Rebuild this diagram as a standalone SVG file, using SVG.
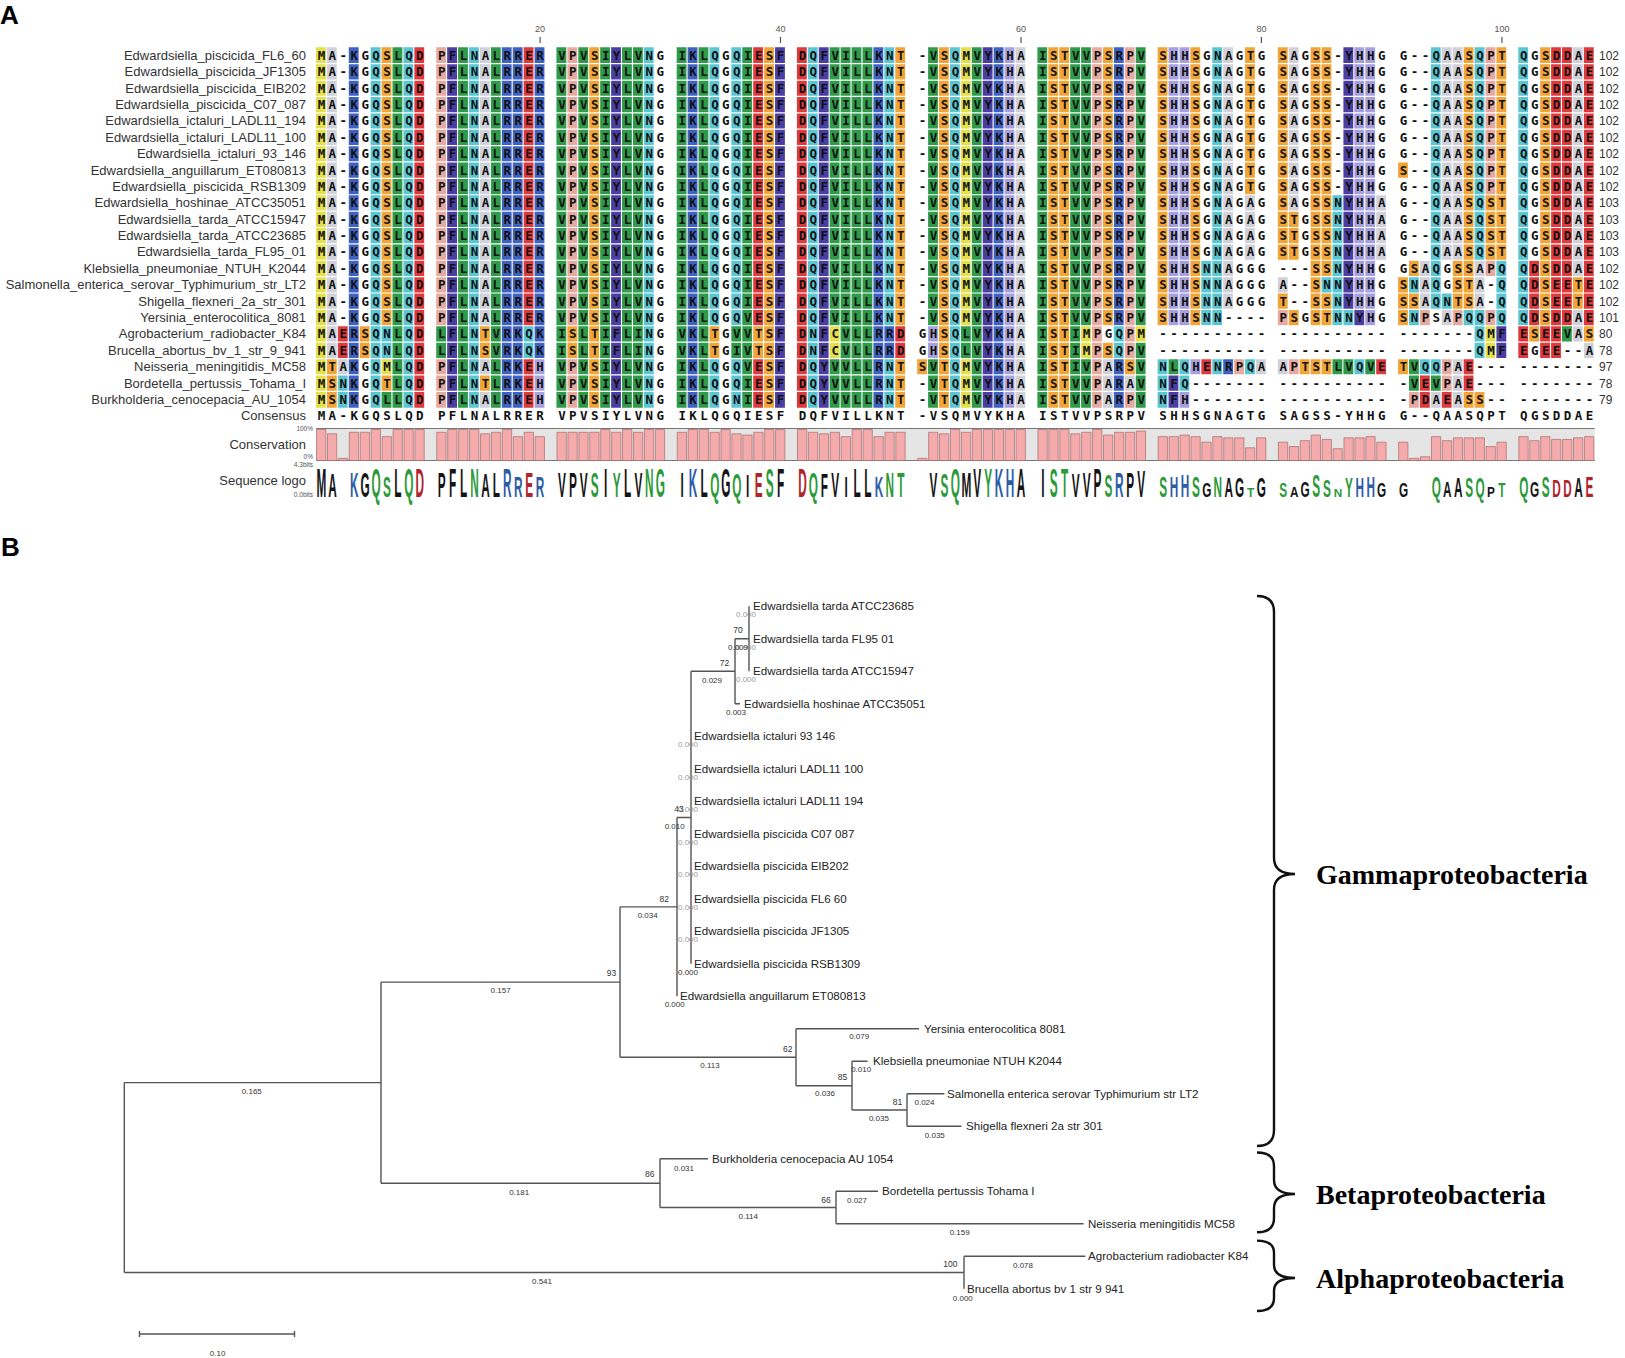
<svg xmlns="http://www.w3.org/2000/svg" width="1625" height="1358" viewBox="0 0 1625 1358">
<style>
text{font-family:"Liberation Sans",Arial,sans-serif}
.pl{font-size:26px;font-weight:bold;fill:#000}
.nm{font-size:13px;fill:#333;text-anchor:end}
.sq{font-family:"DejaVu Sans Mono",monospace;font-size:12.5px;font-weight:bold;letter-spacing:3.405px;fill:#111}
.ln{font-size:12px;fill:#333}
.tk{font-size:9px;fill:#555;text-anchor:middle}
.sm{font-size:6.5px;fill:#555;text-anchor:end}
.y{fill:#e4e04c}.a{fill:#d0d1d9}.b{fill:#3f62c2}.c{fill:#5ac6d3}.o{fill:#f1a536}.g{fill:#2f9a4a}.r{fill:#e0393c}.p{fill:#e7aaa0}.f{fill:#4b3ea2}.h{fill:#a6a0de}
.lg{font-size:12px;font-weight:bold;text-anchor:middle}
.k{fill:#151515}.n{fill:#2c9a3a}.u{fill:#2d5ca8}.d{fill:#b0242a}
.lf{font-size:11.6px;fill:#222}
.bs{font-size:8.5px;fill:#333;text-anchor:middle}
.bl{font-size:8px;fill:#333;text-anchor:middle}
.bz{font-size:8px;fill:#9a9a9a;text-anchor:middle}
.br{fill:none;stroke:#555;stroke-width:1.4}
.cl{font-family:"Liberation Serif","Times New Roman",serif;font-size:28px;font-weight:bold;fill:#000}
.brace{fill:none;stroke:#111;stroke-width:2.4}
</style>
<rect width="1625" height="1358" fill="#fff"/>

<!-- Panel A -->
<text class="pl" x="0" y="24">A</text>
<g id="ticks">
<text class="tk" x="540.1" y="32">20</text><text class="tk" x="780.5" y="32">40</text><text class="tk" x="1021" y="32">60</text><text class="tk" x="1261.4" y="32">80</text><text class="tk" x="1501.9" y="32">100</text>
<path d="M540.1 37V43M780.5 37V43M1021 37V43M1261.4 37V43M1501.9 37V43" stroke="#555" stroke-width="1.2"/>
</g>

<g id="cells" transform="translate(316 47.31) scale(10.93 16.38)">
<path class="y" d="M0 0h.9v22h-.9zM6 19h.9v1h-.9zM47 17h.9v2h-.9zM59 0h.9v17h-.9zM59 19h.9v3h-.9zM70 17h.9v2h-.9zM75 17h.9v1h-.9zM107 17h.9v2h-.9z"/>
<path class="a" d="M1 0h.9v19h-.9zM2 19h.9v1h-.9zM15 0h.9v17h-.9zM15 19h.9v1h-.9zM15 21h.9v1h-.9zM64 0h.9v22h-.9zM72 19h.9v3h-.9zM74 20h.9v1h-.9zM83 0h.9v16h-.9zM85 9h.9v4h-.9zM86 19h.9v1h-.9zM88 14h.9v1h-.9zM88 19h.9v1h-.9zM89 0h.9v10h-.9zM97 9h.9v4h-.9zM101 13h.9v3h-.9zM102 21h.9v1h-.9zM103 0h.9v13h-.9zM103 16h.9v1h-.9zM104 0h.9v13h-.9zM104 19h.9v3h-.9zM106 13h.9v3h-.9zM115 0h.9v14h-.9zM115 16h.9v2h-.9zM116 18h.9v1h-.9z"/>
<path class="b" d="M3 0h.9v22h-.9zM17 0h.9v22h-.9zM18 0h.9v22h-.9zM20 0h.9v19h-.9zM34 0h.9v22h-.9zM51 0h.9v22h-.9zM52 17h.9v2h-.9zM62 0h.9v22h-.9zM73 0h.9v17h-.9zM73 19h.9v3h-.9zM83 19h.9v1h-.9z"/>
<path class="c" d="M2 20h.9v2h-.9zM5 0h.9v22h-.9zM6 17h.9v2h-.9zM8 0h.9v22h-.9zM14 0h.9v22h-.9zM19 17h.9v2h-.9zM30 0h.9v22h-.9zM36 0h.9v17h-.9zM36 19h.9v3h-.9zM38 0h.9v17h-.9zM38 19h.9v3h-.9zM45 0h.9v22h-.9zM52 0h.9v17h-.9zM52 19h.9v3h-.9zM58 0h.9v22h-.9zM73 17h.9v2h-.9zM77 19h.9v3h-.9zM79 19h.9v2h-.9zM81 13h.9v4h-.9zM82 0h.9v17h-.9zM82 19h.9v1h-.9zM85 19h.9v1h-.9zM92 14h.9v1h-.9zM93 9h.9v8h-.9zM94 16h.9v1h-.9zM95 19h.9v1h-.9zM100 14h.9v1h-.9zM100 16h.9v1h-.9zM101 19h.9v1h-.9zM102 0h.9v16h-.9zM102 19h.9v1h-.9zM103 15h.9v1h-.9zM105 16h.9v1h-.9zM106 0h.9v13h-.9zM106 16h.9v3h-.9zM108 13h.9v4h-.9zM110 0h.9v17h-.9z"/>
<path class="o" d="M1 19h.9v3h-.9zM4 17h.9v2h-.9zM6 0h.9v17h-.9zM6 20h.9v1h-.9zM15 17h.9v2h-.9zM15 20h.9v1h-.9zM23 17h.9v2h-.9zM25 0h.9v22h-.9zM36 17h.9v2h-.9zM40 17h.9v2h-.9zM41 0h.9v22h-.9zM53 0h.9v17h-.9zM53 19h.9v3h-.9zM55 19h.9v1h-.9zM57 0h.9v22h-.9zM67 0h.9v22h-.9zM68 0h.9v22h-.9zM72 0h.9v17h-.9zM72 18h.9v1h-.9zM74 19h.9v1h-.9zM77 0h.9v17h-.9zM80 0h.9v17h-.9zM85 0h.9v9h-.9zM88 0h.9v13h-.9zM88 15h.9v1h-.9zM89 10h.9v3h-.9zM89 16h.9v1h-.9zM90 19h.9v1h-.9zM91 0h.9v17h-.9zM91 19h.9v1h-.9zM92 0h.9v14h-.9zM92 15h.9v2h-.9zM92 19h.9v1h-.9zM99 7h.9v1h-.9zM99 14h.9v3h-.9zM99 19h.9v1h-.9zM100 13h.9v1h-.9zM100 15h.9v1h-.9zM104 13h.9v3h-.9zM105 0h.9v16h-.9zM105 21h.9v1h-.9zM106 21h.9v1h-.9zM107 9h.9v4h-.9zM108 0h.9v13h-.9zM111 17h.9v1h-.9zM112 0h.9v17h-.9zM115 14h.9v2h-.9zM116 17h.9v1h-.9z"/>
<path class="g" d="M6 21h.9v1h-.9zM7 0h.9v22h-.9zM11 17h.9v2h-.9zM13 0h.9v22h-.9zM16 0h.9v22h-.9zM22 0h.9v22h-.9zM24 0h.9v22h-.9zM26 0h.9v22h-.9zM28 0h.9v22h-.9zM29 0h.9v22h-.9zM33 0h.9v22h-.9zM35 0h.9v22h-.9zM38 17h.9v2h-.9zM39 0h.9v22h-.9zM47 0h.9v17h-.9zM47 19h.9v3h-.9zM48 0h.9v22h-.9zM49 0h.9v22h-.9zM50 0h.9v22h-.9zM56 0h.9v17h-.9zM56 19h.9v3h-.9zM59 17h.9v2h-.9zM60 0h.9v22h-.9zM66 0h.9v22h-.9zM69 0h.9v22h-.9zM70 0h.9v17h-.9zM70 19h.9v3h-.9zM75 0h.9v17h-.9zM75 18h.9v4h-.9zM78 19h.9v1h-.9zM93 19h.9v1h-.9zM94 19h.9v1h-.9zM96 19h.9v1h-.9zM100 19h.9v2h-.9zM102 20h.9v1h-.9zM114 17h.9v1h-.9z"/>
<path class="r" d="M2 17h.9v2h-.9zM9 0h.9v22h-.9zM19 0h.9v17h-.9zM19 19h.9v3h-.9zM40 0h.9v17h-.9zM40 19h.9v3h-.9zM44 0h.9v22h-.9zM53 17h.9v2h-.9zM81 19h.9v1h-.9zM97 19h.9v1h-.9zM101 20h.9v2h-.9zM103 21h.9v1h-.9zM105 19h.9v2h-.9zM110 17h.9v2h-.9zM111 13h.9v4h-.9zM112 17h.9v2h-.9zM113 0h.9v19h-.9zM114 0h.9v17h-.9zM116 0h.9v17h-.9z"/>
<path class="p" d="M11 0h.9v17h-.9zM11 19h.9v3h-.9zM23 0h.9v17h-.9zM23 19h.9v3h-.9zM71 0h.9v22h-.9zM74 0h.9v19h-.9zM74 21h.9v1h-.9zM84 19h.9v1h-.9zM88 16h.9v1h-.9zM89 19h.9v1h-.9zM100 21h.9v1h-.9zM101 16h.9v1h-.9zM103 19h.9v2h-.9zM104 16h.9v1h-.9zM107 0h.9v9h-.9zM107 13h.9v1h-.9zM107 16h.9v1h-.9z"/>
<path class="f" d="M12 0h.9v22h-.9zM27 0h.9v22h-.9zM42 0h.9v22h-.9zM46 0h.9v22h-.9zM61 0h.9v22h-.9zM78 20h.9v2h-.9zM94 0h.9v16h-.9zM95 16h.9v1h-.9zM108 17h.9v2h-.9z"/>
<path class="h" d="M20 19h.9v3h-.9zM56 17h.9v2h-.9zM63 0h.9v22h-.9zM78 0h.9v17h-.9zM79 0h.9v17h-.9zM79 21h.9v1h-.9zM80 19h.9v1h-.9zM95 0h.9v16h-.9zM96 0h.9v17h-.9z"/>
<path d="M0 1H117M0 2H117M0 3H117M0 4H117M0 5H117M0 6H117M0 7H117M0 8H117M0 9H117M0 10H117M0 11H117M0 12H117M0 13H117M0 14H117M0 15H117M0 16H117M0 17H117M0 18H117M0 19H117M0 20H117M0 21H117" stroke="#fff" stroke-width="1.2" vector-effect="non-scaling-stroke"/>
</g>

<g id="row1"><text class="nm" x="306" y="59.9">Edwardsiella_piscicida_FL6_60</text><text class="sq" x="317.7" y="59.9">MA-KGQSLQD PFLNALRRER VPVSIYLVNG IKLQGQIESF DQFVILLKNT -VSQMVYKHA ISTVVPSRPV SHHSGNAGTG SAGSS-YHHG G--QAASQPT QGSDDAE</text><text class="ln" x="1599" y="59.9">102</text></g>
<g id="row2"><text class="nm" x="306" y="76.28">Edwardsiella_piscicida_JF1305</text><text class="sq" x="317.7" y="76.28">MA-KGQSLQD PFLNALRRER VPVSIYLVNG IKLQGQIESF DQFVILLKNT -VSQMVYKHA ISTVVPSRPV SHHSGNAGTG SAGSS-YHHG G--QAASQPT QGSDDAE</text><text class="ln" x="1599" y="76.28">102</text></g>
<g id="row3"><text class="nm" x="306" y="92.66">Edwardsiella_piscicida_EIB202</text><text class="sq" x="317.7" y="92.66">MA-KGQSLQD PFLNALRRER VPVSIYLVNG IKLQGQIESF DQFVILLKNT -VSQMVYKHA ISTVVPSRPV SHHSGNAGTG SAGSS-YHHG G--QAASQPT QGSDDAE</text><text class="ln" x="1599" y="92.66">102</text></g>
<g id="row4"><text class="nm" x="306" y="109.04">Edwardsiella_piscicida_C07_087</text><text class="sq" x="317.7" y="109.04">MA-KGQSLQD PFLNALRRER VPVSIYLVNG IKLQGQIESF DQFVILLKNT -VSQMVYKHA ISTVVPSRPV SHHSGNAGTG SAGSS-YHHG G--QAASQPT QGSDDAE</text><text class="ln" x="1599" y="109.04">102</text></g>
<g id="row5"><text class="nm" x="306" y="125.42">Edwardsiella_ictaluri_LADL11_194</text><text class="sq" x="317.7" y="125.42">MA-KGQSLQD PFLNALRRER VPVSIYLVNG IKLQGQIESF DQFVILLKNT -VSQMVYKHA ISTVVPSRPV SHHSGNAGTG SAGSS-YHHG G--QAASQPT QGSDDAE</text><text class="ln" x="1599" y="125.42">102</text></g>
<g id="row6"><text class="nm" x="306" y="141.8">Edwardsiella_ictaluri_LADL11_100</text><text class="sq" x="317.7" y="141.8">MA-KGQSLQD PFLNALRRER VPVSIYLVNG IKLQGQIESF DQFVILLKNT -VSQMVYKHA ISTVVPSRPV SHHSGNAGTG SAGSS-YHHG G--QAASQPT QGSDDAE</text><text class="ln" x="1599" y="141.8">102</text></g>
<g id="row7"><text class="nm" x="306" y="158.18">Edwardsiella_ictaluri_93_146</text><text class="sq" x="317.7" y="158.18">MA-KGQSLQD PFLNALRRER VPVSIYLVNG IKLQGQIESF DQFVILLKNT -VSQMVYKHA ISTVVPSRPV SHHSGNAGTG SAGSS-YHHG G--QAASQPT QGSDDAE</text><text class="ln" x="1599" y="158.18">102</text></g>
<g id="row8"><text class="nm" x="306" y="174.56">Edwardsiella_anguillarum_ET080813</text><text class="sq" x="317.7" y="174.56">MA-KGQSLQD PFLNALRRER VPVSIYLVNG IKLQGQIESF DQFVILLKNT -VSQMVYKHA ISTVVPSRPV SHHSGNAGTG SAGSS-YHHG S--QAASQPT QGSDDAE</text><text class="ln" x="1599" y="174.56">102</text></g>
<g id="row9"><text class="nm" x="306" y="190.94">Edwardsiella_piscicida_RSB1309</text><text class="sq" x="317.7" y="190.94">MA-KGQSLQD PFLNALRRER VPVSIYLVNG IKLQGQIESF DQFVILLKNT -VSQMVYKHA ISTVVPSRPV SHHSGNAGTG SAGSS-YHHG G--QAASQPT QGSDDAE</text><text class="ln" x="1599" y="190.94">102</text></g>
<g id="row10"><text class="nm" x="306" y="207.32">Edwardsiella_hoshinae_ATCC35051</text><text class="sq" x="317.7" y="207.32">MA-KGQSLQD PFLNALRRER VPVSIYLVNG IKLQGQIESF DQFVILLKNT -VSQMVYKHA ISTVVPSRPV SHHSGNAGAG SAGSSNYHHA G--QAASQST QGSDDAE</text><text class="ln" x="1599" y="207.32">103</text></g>
<g id="row11"><text class="nm" x="306" y="223.7">Edwardsiella_tarda_ATCC15947</text><text class="sq" x="317.7" y="223.7">MA-KGQSLQD PFLNALRRER VPVSIYLVNG IKLQGQIESF DQFVILLKNT -VSQMVYKHA ISTVVPSRPV SHHSGNAGAG STGSSNYHHA G--QAASQST QGSDDAE</text><text class="ln" x="1599" y="223.7">103</text></g>
<g id="row12"><text class="nm" x="306" y="240.08">Edwardsiella_tarda_ATCC23685</text><text class="sq" x="317.7" y="240.08">MA-KGQSLQD PFLNALRRER VPVSIYLVNG IKLQGQIESF DQFVILLKNT -VSQMVYKHA ISTVVPSRPV SHHSGNAGAG STGSSNYHHA G--QAASQST QGSDDAE</text><text class="ln" x="1599" y="240.08">103</text></g>
<g id="row13"><text class="nm" x="306" y="256.46">Edwardsiella_tarda_FL95_01</text><text class="sq" x="317.7" y="256.46">MA-KGQSLQD PFLNALRRER VPVSIYLVNG IKLQGQIESF DQFVILLKNT -VSQMVYKHA ISTVVPSRPV SHHSGNAGAG STGSSNYHHA G--QAASQST QGSDDAE</text><text class="ln" x="1599" y="256.46">103</text></g>
<g id="row14"><text class="nm" x="306" y="272.84">Klebsiella_pneumoniae_NTUH_K2044</text><text class="sq" x="317.7" y="272.84">MA-KGQSLQD PFLNALRRER VPVSIYLVNG IKLQGQIESF DQFVILLKNT -VSQMVYKHA ISTVVPSRPV SHHSNNAGGG ---SSNYHHG GSAQGSSAPQ QDSDDAE</text><text class="ln" x="1599" y="272.84">102</text></g>
<g id="row15"><text class="nm" x="306" y="289.22">Salmonella_enterica_serovar_Typhimurium_str_LT2</text><text class="sq" x="317.7" y="289.22">MA-KGQSLQD PFLNALRRER VPVSIYLVNG IKLQGQIESF DQFVILLKNT -VSQMVYKHA ISTVVPSRPV SHHSNNAGGG A--SNNYHHG SNAQGSTA-Q QDSEETE</text><text class="ln" x="1599" y="289.22">102</text></g>
<g id="row16"><text class="nm" x="306" y="305.6">Shigella_flexneri_2a_str_301</text><text class="sq" x="317.7" y="305.6">MA-KGQSLQD PFLNALRRER VPVSIYLVNG IKLQGQIESF DQFVILLKNT -VSQMVYKHA ISTVVPSRPV SHHSNNAGGG T--SSNYHHG SSAQNTSA-Q QDSEETE</text><text class="ln" x="1599" y="305.6">102</text></g>
<g id="row17"><text class="nm" x="306" y="321.98">Yersinia_enterocolitica_8081</text><text class="sq" x="317.7" y="321.98">MA-KGQSLQD PFLNALRRER VPVSIYLVNG IKLQGQVESF DQFVILLKNT -VSQMVYKHA ISTVVPSRPV SHHSNN---- PSGSTNNYHG SNPSAPQQPQ QDSDDAE</text><text class="ln" x="1599" y="321.98">101</text></g>
<g id="row18"><text class="nm" x="306" y="338.36">Agrobacterium_radiobacter_K84</text><text class="sq" x="317.7" y="338.36">MAERSQNLQD LFLNTVRKQK ISLTIFLING VKLTGVVTSF DNFCVLLRRD GHSQLVYKHA ISTIMPGQPM ---------- ---------- -------QMF ESEEVAS</text><text class="ln" x="1599" y="338.36">80</text></g>
<g id="row19"><text class="nm" x="306" y="354.74">Brucella_abortus_bv_1_str_9_941</text><text class="sq" x="317.7" y="354.74">MAERSQNLQD LFLNSVRKQK ISLTIFLING VKLTGIVTSF DNFCVLLRRD GHSQLVYKHA ISTIMPSQPV ---------- ---------- -------QMF EGEE--A</text><text class="ln" x="1599" y="354.74">78</text></g>
<g id="row20"><text class="nm" x="306" y="371.12">Neisseria_meningitidis_MC58</text><text class="sq" x="317.7" y="371.12">MTAKGQMLQD PFLNALRKEH VPVSIYLVNG IKLQGQVESF DQYVVLLRNT SVTQMVYKHA ISTIVPARSV NLQHENRPQA APTSTLVQVE TVQQPAE--- -------</text><text class="ln" x="1599" y="371.12">97</text></g>
<g id="row21"><text class="nm" x="306" y="387.5">Bordetella_pertussis_Tohama_I</text><text class="sq" x="317.7" y="387.5">MSNKGQTLQD PFLNTLRKEH VPVSIYLVNG IKLQGQIESF DQYVVLLRNT -VTQMVYKHA ISTVVPARAV NFQ------- ---------- -VEVPAE--- -------</text><text class="ln" x="1599" y="387.5">78</text></g>
<g id="row22"><text class="nm" x="306" y="403.88">Burkholderia_cenocepacia_AU_1054</text><text class="sq" x="317.7" y="403.88">MSNKGQLLQD PFLNALRKEH VPVSIYLVNG IKLQGNIESF DQYVVLLRNT -VTQMVYKHA ISTVVPARPV NFH------- ---------- -PDAEASS-- -------</text><text class="ln" x="1599" y="403.88">79</text></g>
<g id="consensus"><text class="nm" x="306" y="420.26">Consensus</text><text class="sq" x="317.7" y="420.26">MA-KGQSLQD PFLNALRRER VPVSIYLVNG IKLQGQIESF DQFVILLKNT -VSQMVYKHA ISTVVPSRPV SHHSGNAGTG SAGSS-YHHG G--QAASQPT QGSDDAE</text></g>

<g id="conservation">
<text class="nm" x="306" y="449">Conservation</text>
<text class="sm" x="313" y="431">100%</text><text class="sm" x="313" y="459">0%</text>
<rect x="316" y="428" width="1278.8" height="33" fill="#e5e5e5"/>
<path d="M316 428.5H1594.8M316 460.5H1594.8" stroke="#777" stroke-width="1"/>
<g transform="translate(316.55 460.5) scale(10.93 -31)">
<path fill="#f5abab" stroke="#a86a6a" stroke-width=".7" vector-effect="non-scaling-stroke" d="M0 0h.85v1h-.85zM1 0h.85v.86h-.85zM2 0h.85v.07h-.85zM3 0h.85v.91h-.85zM4 0h.85v.91h-.85zM5 0h.85v1h-.85zM6 0h.85v.77h-.85zM7 0h.85v1h-.85zM8 0h.85v1h-.85zM9 0h.85v1h-.85zM11 0h.85v.91h-.85zM12 0h.85v1h-.85zM13 0h.85v1h-.85zM14 0h.85v1h-.85zM15 0h.85v.86h-.85zM16 0h.85v.91h-.85zM17 0h.85v1h-.85zM18 0h.85v.77h-.85zM19 0h.85v.91h-.85zM20 0h.85v.77h-.85zM22 0h.85v.91h-.85zM23 0h.85v.91h-.85zM24 0h.85v.91h-.85zM25 0h.85v.91h-.85zM26 0h.85v1h-.85zM27 0h.85v.91h-.85zM28 0h.85v1h-.85zM29 0h.85v.91h-.85zM30 0h.85v1h-.85zM31 0h.85v1h-.85zM33 0h.85v.91h-.85zM34 0h.85v1h-.85zM35 0h.85v1h-.85zM36 0h.85v.91h-.85zM37 0h.85v1h-.85zM38 0h.85v.86h-.85zM39 0h.85v.82h-.85zM40 0h.85v.91h-.85zM41 0h.85v1h-.85zM42 0h.85v1h-.85zM44 0h.85v1h-.85zM45 0h.85v.91h-.85zM46 0h.85v.86h-.85zM47 0h.85v.91h-.85zM48 0h.85v.77h-.85zM49 0h.85v1h-.85zM50 0h.85v1h-.85zM51 0h.85v.77h-.85zM52 0h.85v.91h-.85zM53 0h.85v.91h-.85zM55 0h.85v.07h-.85zM56 0h.85v.91h-.85zM57 0h.85v.86h-.85zM58 0h.85v1h-.85zM59 0h.85v.91h-.85zM60 0h.85v1h-.85zM61 0h.85v1h-.85zM62 0h.85v1h-.85zM63 0h.85v1h-.85zM64 0h.85v1h-.85zM66 0h.85v1h-.85zM67 0h.85v1h-.85zM68 0h.85v1h-.85zM69 0h.85v.86h-.85zM70 0h.85v.91h-.85zM71 0h.85v1h-.85zM72 0h.85v.82h-.85zM73 0h.85v.91h-.85zM74 0h.85v.91h-.85zM75 0h.85v.95h-.85zM77 0h.85v.77h-.85zM78 0h.85v.77h-.85zM79 0h.85v.82h-.85zM80 0h.85v.77h-.85zM81 0h.85v.59h-.85zM82 0h.85v.77h-.85zM83 0h.85v.73h-.85zM84 0h.85v.73h-.85zM85 0h.85v.41h-.85zM86 0h.85v.73h-.85zM88 0h.85v.59h-.85zM89 0h.85v.45h-.85zM90 0h.85v.64h-.85zM91 0h.85v.82h-.85zM92 0h.85v.68h-.85zM93 0h.85v.38h-.85zM94 0h.85v.73h-.85zM95 0h.85v.73h-.85zM96 0h.85v.77h-.85zM97 0h.85v.59h-.85zM99 0h.85v.59h-.85zM100 0h.85v.07h-.85zM101 0h.85v.12h-.85zM102 0h.85v.77h-.85zM103 0h.85v.64h-.85zM104 0h.85v.73h-.85zM105 0h.85v.73h-.85zM106 0h.85v.73h-.85zM107 0h.85v.45h-.85zM108 0h.85v.59h-.85zM110 0h.85v.77h-.85zM111 0h.85v.64h-.85zM112 0h.85v.77h-.85zM113 0h.85v.68h-.85zM114 0h.85v.68h-.85zM115 0h.85v.73h-.85zM116 0h.85v.77h-.85z"/>
</g>
</g>

<g id="logo-panel">
<text class="nm" x="306" y="485">Sequence logo</text>
<text class="sm" x="313" y="467">4.3bits</text><text class="sm" x="313" y="497">0.0bits</text>
<g transform="translate(321.465 496.5) scale(10.93 1)">
<text class="lg k" transform="translate(0 0)scale(.09 3.37)">M</text>
<text class="lg k" transform="translate(1 0)scale(.09 2.77)">A</text>
<text class="lg u" transform="translate(3 0)scale(.09 2.98)">K</text>
<text class="lg k" transform="translate(4 0)scale(.09 2.98)">G</text>
<text class="lg n" transform="translate(5 0)scale(.09 3.37)">Q</text>
<text class="lg n" transform="translate(6 0)scale(.09 2.4)">S</text>
<text class="lg k" transform="translate(7 0)scale(.09 3.37)">L</text>
<text class="lg n" transform="translate(8 0)scale(.09 3.37)">Q</text>
<text class="lg d" transform="translate(9 0)scale(.09 3.37)">D</text>
<text class="lg k" transform="translate(11 0)scale(.09 2.98)">P</text>
<text class="lg k" transform="translate(12 0)scale(.09 3.37)">F</text>
<text class="lg k" transform="translate(13 0)scale(.09 3.37)">L</text>
<text class="lg n" transform="translate(14 0)scale(.09 3.37)">N</text>
<text class="lg k" transform="translate(15 0)scale(.09 2.77)">A</text>
<text class="lg k" transform="translate(16 0)scale(.09 2.98)">L</text>
<text class="lg u" transform="translate(17 0)scale(.09 3.37)">R</text>
<text class="lg u" transform="translate(18 0)scale(.09 2.4)">R</text>
<text class="lg d" transform="translate(19 0)scale(.09 2.98)">E</text>
<text class="lg u" transform="translate(20 0)scale(.09 2.4)">R</text>
<text class="lg k" transform="translate(22 0)scale(.09 2.98)">V</text>
<text class="lg k" transform="translate(23 0)scale(.09 2.98)">P</text>
<text class="lg k" transform="translate(24 0)scale(.09 2.98)">V</text>
<text class="lg n" transform="translate(25 0)scale(.09 2.98)">S</text>
<text class="lg k" transform="translate(26 0)scale(.09 3.37)">I</text>
<text class="lg n" transform="translate(27 0)scale(.09 2.98)">Y</text>
<text class="lg k" transform="translate(28 0)scale(.09 3.37)">L</text>
<text class="lg k" transform="translate(29 0)scale(.09 2.98)">V</text>
<text class="lg n" transform="translate(30 0)scale(.09 3.37)">N</text>
<text class="lg n" transform="translate(31 0)scale(.09 3.37)">G</text>
<text class="lg k" transform="translate(33 0)scale(.09 2.98)">I</text>
<text class="lg u" transform="translate(34 0)scale(.09 3.37)">K</text>
<text class="lg k" transform="translate(35 0)scale(.09 3.37)">L</text>
<text class="lg n" transform="translate(36 0)scale(.09 2.98)">Q</text>
<text class="lg k" transform="translate(37 0)scale(.09 3.37)">G</text>
<text class="lg n" transform="translate(38 0)scale(.09 2.77)">Q</text>
<text class="lg k" transform="translate(39 0)scale(.09 2.6)">I</text>
<text class="lg d" transform="translate(40 0)scale(.09 2.98)">E</text>
<text class="lg n" transform="translate(41 0)scale(.09 3.37)">S</text>
<text class="lg k" transform="translate(42 0)scale(.09 3.37)">F</text>
<text class="lg d" transform="translate(44 0)scale(.09 3.37)">D</text>
<text class="lg n" transform="translate(45 0)scale(.09 2.98)">Q</text>
<text class="lg k" transform="translate(46 0)scale(.09 2.77)">F</text>
<text class="lg k" transform="translate(47 0)scale(.09 2.98)">V</text>
<text class="lg k" transform="translate(48 0)scale(.09 2.4)">I</text>
<text class="lg k" transform="translate(49 0)scale(.09 3.37)">L</text>
<text class="lg k" transform="translate(50 0)scale(.09 3.37)">L</text>
<text class="lg u" transform="translate(51 0)scale(.09 2.4)">K</text>
<text class="lg n" transform="translate(52 0)scale(.09 2.98)">N</text>
<text class="lg n" transform="translate(53 0)scale(.09 2.98)">T</text>
<text class="lg k" transform="translate(56 0)scale(.09 2.98)">V</text>
<text class="lg n" transform="translate(57 0)scale(.09 2.77)">S</text>
<text class="lg n" transform="translate(58 0)scale(.09 3.37)">Q</text>
<text class="lg k" transform="translate(59 0)scale(.09 2.98)">M</text>
<text class="lg k" transform="translate(60 0)scale(.09 3.37)">V</text>
<text class="lg n" transform="translate(61 0)scale(.09 3.37)">Y</text>
<text class="lg u" transform="translate(62 0)scale(.09 3.37)">K</text>
<text class="lg u" transform="translate(63 0)scale(.09 3.37)">H</text>
<text class="lg k" transform="translate(64 0)scale(.09 3.37)">A</text>
<text class="lg k" transform="translate(66 0)scale(.09 3.37)">I</text>
<text class="lg n" transform="translate(67 0)scale(.09 3.37)">S</text>
<text class="lg n" transform="translate(68 0)scale(.09 3.37)">T</text>
<text class="lg k" transform="translate(69 0)scale(.09 2.77)">V</text>
<text class="lg k" transform="translate(70 0)scale(.09 2.98)">V</text>
<text class="lg k" transform="translate(71 0)scale(.09 3.37)">P</text>
<text class="lg n" transform="translate(72 0)scale(.09 2.6)">S</text>
<text class="lg u" transform="translate(73 0)scale(.09 2.98)">R</text>
<text class="lg k" transform="translate(74 0)scale(.09 2.98)">P</text>
<text class="lg k" transform="translate(75 0)scale(.09 3.15)">V</text>
<text class="lg n" transform="translate(77 0)scale(.09 2.4)">S</text>
<text class="lg u" transform="translate(78 0)scale(.09 2.4)">H</text>
<text class="lg u" transform="translate(79 0)scale(.09 2.6)">H</text>
<text class="lg n" transform="translate(80 0)scale(.09 2.4)">S</text>
<text class="lg k" transform="translate(81 0)scale(.09 1.7)">G</text>
<text class="lg n" transform="translate(82 0)scale(.09 2.4)">N</text>
<text class="lg k" transform="translate(83 0)scale(.09 2.24)">A</text>
<text class="lg k" transform="translate(84 0)scale(.09 2.24)">G</text>
<text class="lg n" transform="translate(85 0)scale(.09 1.06)">T</text>
<text class="lg k" transform="translate(86 0)scale(.09 2.24)">G</text>
<text class="lg n" transform="translate(88 0)scale(.09 1.7)">S</text>
<text class="lg k" transform="translate(89 0)scale(.09 1.19)">A</text>
<text class="lg k" transform="translate(90 0)scale(.09 1.89)">G</text>
<text class="lg n" transform="translate(91 0)scale(.09 2.6)">S</text>
<text class="lg n" transform="translate(92 0)scale(.09 2.04)">S</text>
<text class="lg n" transform="translate(93 0)scale(.09 .96)">N</text>
<text class="lg n" transform="translate(94 0)scale(.09 2.24)">Y</text>
<text class="lg u" transform="translate(95 0)scale(.09 2.24)">H</text>
<text class="lg u" transform="translate(96 0)scale(.09 2.4)">H</text>
<text class="lg k" transform="translate(97 0)scale(.09 1.7)">G</text>
<text class="lg k" transform="translate(99 0)scale(.09 1.7)">G</text>
<text class="lg n" transform="translate(102 0)scale(.09 2.4)">Q</text>
<text class="lg k" transform="translate(103 0)scale(.09 1.89)">A</text>
<text class="lg k" transform="translate(104 0)scale(.09 2.24)">A</text>
<text class="lg n" transform="translate(105 0)scale(.09 2.24)">S</text>
<text class="lg n" transform="translate(106 0)scale(.09 2.24)">Q</text>
<text class="lg k" transform="translate(107 0)scale(.09 1.19)">P</text>
<text class="lg n" transform="translate(108 0)scale(.09 1.7)">T</text>
<text class="lg n" transform="translate(110 0)scale(.09 2.4)">Q</text>
<text class="lg k" transform="translate(111 0)scale(.09 1.89)">G</text>
<text class="lg n" transform="translate(112 0)scale(.09 2.4)">S</text>
<text class="lg d" transform="translate(113 0)scale(.09 2.04)">D</text>
<text class="lg d" transform="translate(114 0)scale(.09 2.04)">D</text>
<text class="lg k" transform="translate(115 0)scale(.09 2.24)">A</text>
<text class="lg d" transform="translate(116 0)scale(.09 2.4)">E</text>
</g>
</g>

<!-- Panel B -->
<text class="pl" x="1" y="556">B</text>

<g id="connectors">
<path class="br" d="M124.3 1082.6V1272.55M124.3 1082.6H381M124.3 1272.55H964"/>
<path class="br" d="M381 982.1V1183.2M381 982.1H620M381 1183.2H660"/>
<path class="br" d="M620 906.9V1057.2M620 906.9H677M620 1057.2H796"/>
<path class="br" d="M677 817.55V996.3M677 817.55H691"/>
<path class="br" d="M691 671.3V963.8M691 671.3H735"/>
<path class="br" d="M735 638.8V703.8M735 638.8H749M735 703.8H740"/>
<path class="br" d="M749 606.3V671.3"/>
<path class="br" d="M796 1028.8V1085.7M796 1028.8H919M796 1085.7H852"/>
<path class="br" d="M852 1061.3V1110.05M852 1061.3H867.6M852 1110.05H907"/>
<path class="br" d="M907 1093.8V1126.3M907 1093.8H944.4M907 1126.3H961.5"/>
<path class="br" d="M660 1158.8V1207.55M660 1158.8H708M660 1207.55H836"/>
<path class="br" d="M836 1191.3V1223.8M836 1191.3H878M836 1223.8H1083.6"/>
<path class="br" d="M964 1256.3V1288.8M964 1256.3H1085.4"/>
</g>

<g id="branch-labels">
<text class="bz" x="746" y="617.3">0.000</text>
<text class="bz" x="746" y="649.8">0.000</text>
<text class="bz" x="746" y="682.3">0.000</text>
<text class="bs" x="738" y="633">70</text>
<text class="bl" x="738" y="649.7">0.009</text>
<text class="bs" x="724.4" y="666.3">72</text>
<text class="bl" x="712" y="683">0.029</text>
<text class="bl" x="736" y="715">0.003</text>
<text class="bz" x="688" y="747.3">0.000</text>
<text class="bz" x="688" y="779.8">0.000</text>
<text class="bz" x="688" y="812.3">0.000</text>
<text class="bz" x="688" y="844.8">0.000</text>
<text class="bz" x="688" y="877.3">0.000</text>
<text class="bz" x="688" y="909.8">0.000</text>
<text class="bz" x="688" y="942.3">0.000</text>
<text class="bl" x="688" y="974.8">0.000</text>
<text class="bs" x="679" y="812.4">43</text>
<text class="bl" x="674.7" y="829">0.010</text>
<text class="bs" x="664.3" y="901.6">82</text>
<text class="bl" x="647.7" y="918">0.034</text>
<text class="bl" x="674.7" y="1007.3">0.000</text>
<text class="bs" x="611.5" y="976.2">93</text>
<text class="bl" x="500.6" y="992.8">0.157</text>
<text class="bl" x="710" y="1068.4">0.113</text>
<text class="bs" x="787.7" y="1051.8">62</text>
<text class="bl" x="859.2" y="1039.4">0.079</text>
<text class="bl" x="861.2" y="1071.5">0.010</text>
<text class="bs" x="842.6" y="1079.8">85</text>
<text class="bl" x="825" y="1096.4">0.036</text>
<text class="bs" x="897.5" y="1104.7">81</text>
<text class="bl" x="924.5" y="1104.7">0.024</text>
<text class="bl" x="878.9" y="1121.3">0.035</text>
<text class="bl" x="934.8" y="1137.9">0.035</text>
<text class="bl" x="251.8" y="1094.3">0.165</text>
<text class="bs" x="649.8" y="1177.2">86</text>
<text class="bl" x="684" y="1171">0.031</text>
<text class="bl" x="519.2" y="1194.9">0.181</text>
<text class="bs" x="826" y="1203">66</text>
<text class="bl" x="857" y="1203">0.027</text>
<text class="bl" x="748.3" y="1218.7">0.114</text>
<text class="bl" x="959.7" y="1235.3">0.159</text>
<text class="bs" x="950.4" y="1267.4">100</text>
<text class="bl" x="1023" y="1268.4">0.078</text>
<text class="bl" x="542" y="1284">0.541</text>
<text class="bl" x="962.8" y="1300.6">0.000</text>
</g>

<g id="leaf-tarda-ATCC23685"><text class="lf" x="753" y="610.3">Edwardsiella tarda ATCC23685</text></g>
<g id="leaf-tarda-FL95"><text class="lf" x="753" y="642.8">Edwardsiella tarda FL95 01</text></g>
<g id="leaf-tarda-ATCC15947"><text class="lf" x="753" y="675.3">Edwardsiella tarda ATCC15947</text></g>
<g id="leaf-hoshinae"><text class="lf" x="744" y="707.8">Edwardsiella hoshinae ATCC35051</text></g>
<g id="leaf-ictaluri-93"><text class="lf" x="694" y="740.3">Edwardsiella ictaluri 93 146</text></g>
<g id="leaf-ictaluri-100"><text class="lf" x="694" y="772.8">Edwardsiella ictaluri LADL11 100</text></g>
<g id="leaf-ictaluri-194"><text class="lf" x="694" y="805.3">Edwardsiella ictaluri LADL11 194</text></g>
<g id="leaf-piscicida-C07"><text class="lf" x="694" y="837.8">Edwardsiella piscicida C07 087</text></g>
<g id="leaf-piscicida-EIB202"><text class="lf" x="694" y="870.3">Edwardsiella piscicida EIB202</text></g>
<g id="leaf-piscicida-FL6"><text class="lf" x="694" y="902.8">Edwardsiella piscicida FL6 60</text></g>
<g id="leaf-piscicida-JF1305"><text class="lf" x="694" y="935.3">Edwardsiella piscicida JF1305</text></g>
<g id="leaf-piscicida-RSB1309"><text class="lf" x="694" y="967.8">Edwardsiella piscicida RSB1309</text></g>
<g id="leaf-anguillarum"><text class="lf" x="680" y="1000.3">Edwardsiella anguillarum ET080813</text></g>
<g id="leaf-yersinia"><text class="lf" x="924" y="1032.8">Yersinia enterocolitica 8081</text></g>
<g id="leaf-klebsiella"><text class="lf" x="873" y="1065.3">Klebsiella pneumoniae NTUH K2044</text></g>
<g id="leaf-salmonella"><text class="lf" x="947" y="1097.8">Salmonella enterica serovar Typhimurium str LT2</text></g>
<g id="leaf-shigella"><text class="lf" x="966" y="1130.3">Shigella flexneri 2a str 301</text></g>
<g id="leaf-burkholderia"><text class="lf" x="712" y="1162.8">Burkholderia cenocepacia AU 1054</text></g>
<g id="leaf-bordetella"><text class="lf" x="882" y="1195.3">Bordetella pertussis Tohama I</text></g>
<g id="leaf-neisseria"><text class="lf" x="1088" y="1227.8">Neisseria meningitidis MC58</text></g>
<g id="leaf-agrobacterium"><text class="lf" x="1088" y="1260.3">Agrobacterium radiobacter K84</text></g>
<g id="leaf-brucella"><text class="lf" x="967" y="1292.8">Brucella abortus bv 1 str 9 941</text></g>

<g id="scale-bar">
<path d="M139 1334H295M139.5 1331V1337M294.5 1331V1337" stroke="#555" stroke-width="1.4" fill="none"/>
<text class="bl" x="217.6" y="1355.5">0.10</text>
</g>

<g id="gamma">
<path class="brace" d="M1257 596Q1274 596 1274 612V858Q1274 874 1295 874Q1274 874 1274 890V1130Q1274 1146 1257 1146"/>
<text class="cl" x="1316" y="883.5">Gammaproteobacteria</text>
</g>
<g id="beta">
<path class="brace" d="M1257 1152.5Q1274 1152.5 1274 1166V1180Q1274 1194 1295 1194Q1274 1194 1274 1208V1218Q1274 1232.3 1257 1232.3"/>
<text class="cl" x="1316" y="1203.5">Betaproteobacteria</text>
</g>
<g id="alpha">
<path class="brace" d="M1257 1240.6Q1274 1240.6 1274 1253V1265Q1274 1278 1295 1278Q1274 1278 1274 1291V1298Q1274 1311 1257 1311"/>
<text class="cl" x="1316" y="1287.5">Alphaproteobacteria</text>
</g>
</svg>
